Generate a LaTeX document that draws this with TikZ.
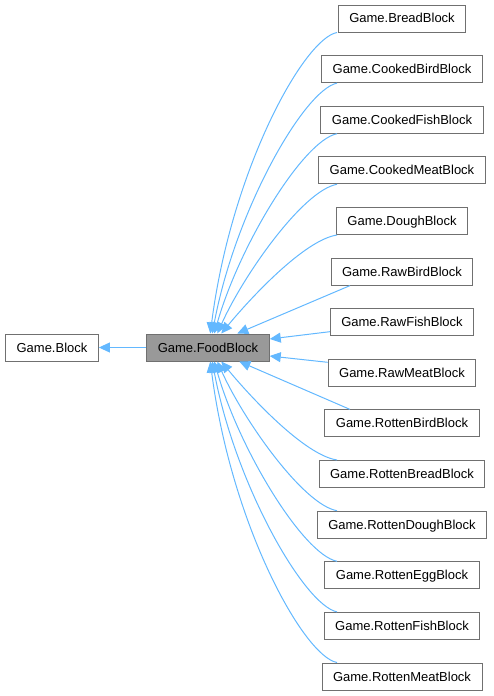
\documentclass[tikz,border=0pt]{standalone}
\usepackage{fontspec}
\setmainfont{Liberation Sans}
\usetikzlibrary{arrows.meta}
\definecolor{edgeblue}{HTML}{63B8FF}
\definecolor{boxline}{HTML}{707070}
\definecolor{boxfill}{HTML}{999999}
\begin{document}
\begin{tikzpicture}[x=1pt,y=-1pt,
  cls/.style={draw=boxline, line width=1pt, fill=white, minimum height=27pt,
    inner xsep=11pt, inner ysep=0pt, text height=9.5pt, text depth=0.5pt,
    font=\fontsize{13}{15}\selectfont},
  cur/.style={cls, fill=boxfill},
  inh/.style={draw=edgeblue, line width=1pt, -{Triangle[length=11pt,width=10pt]}},
]
\useasboundingbox (0,0) rectangle (493,696);
\node[cls] (block) at (52,347.5) {Game.Block};
\node[cur] (food) at (208,347.5) {Game.FoodBlock};
\node[cls] (bread) at (402,18.5) {Game.BreadBlock};
\node[cls] (cbird) at (402,69.1) {Game.CookedBirdBlock};
\node[cls] (cfish) at (402,119.7) {Game.CookedFishBlock};
\node[cls] (cmeat) at (402,170.3) {Game.CookedMeatBlock};
\node[cls] (dough) at (402,221) {Game.DoughBlock};
\node[cls] (rawbird) at (402,271.6) {Game.RawBirdBlock};
\node[cls] (rawfish) at (402,322.2) {Game.RawFishBlock};
\node[cls] (rawmeat) at (402,372.8) {Game.RawMeatBlock};
\node[cls] (rbird) at (402,423.4) {Game.RottenBirdBlock};
\node[cls] (rbread) at (402,474) {Game.RottenBreadBlock};
\node[cls] (rdough) at (402,524.7) {Game.RottenDoughBlock};
\node[cls] (regg) at (402,575.3) {Game.RottenEggBlock};
\node[cls] (rfish) at (402,625.9) {Game.RottenFishBlock};
\node[cls] (rmeat) at (402,676.5) {Game.RottenMeatBlock};
\coordinate (sx) at (337,0);
\coordinate (sxb) at (350,0);
% base class
\draw[inh] (food.west) -- (block.east);
% upper children
\draw[inh] (bread.south -| sx) .. controls +(-33,6) and +(21,-164) .. ([xshift=64pt]food.north west);
\draw[inh] (cbird.south -| sx) .. controls +(-33,7) and +(23,-123) .. ([xshift=66pt]food.north west);
\draw[inh] (cfish.south -| sx) .. controls +(-34,7) and +(25,-88) .. ([xshift=68pt]food.north west);
\draw[inh] (cmeat.south -| sx) .. controls +(-34,6) and +(26,-58) .. ([xshift=71pt]food.north west);
\draw[inh] (dough.south -| sx) .. controls +(-33,5) and +(28,-34) .. ([xshift=75pt]food.north west);
\draw[inh] (rawbird.south -| sxb) -- ([xshift=91pt]food.north west);
% side children
\draw[inh] ([yshift=-9.5pt]rawfish.west) -- ([yshift=8.5pt]food.east);
\draw[inh] ([yshift=10.5pt]rawmeat.west) -- ([yshift=-8.5pt]food.east);
% lower children
\draw[inh] (rbird.north -| sxb) -- ([xshift=93pt]food.south west);
\draw[inh] (rbread.north -| sx) .. controls +(-33,-5) and +(28,34) .. ([xshift=75pt]food.south west);
\draw[inh] (rdough.north -| sx) .. controls +(-34,-6) and +(26,58) .. ([xshift=71pt]food.south west);
\draw[inh] (regg.north -| sx) .. controls +(-34,-7) and +(25,88) .. ([xshift=68pt]food.south west);
\draw[inh] (rfish.north -| sx) .. controls +(-33,-7) and +(23,123) .. ([xshift=66pt]food.south west);
\draw[inh] (rmeat.north -| sx) .. controls +(-33,-6) and +(21,164) .. ([xshift=64pt]food.south west);
\end{tikzpicture}
\end{document}
